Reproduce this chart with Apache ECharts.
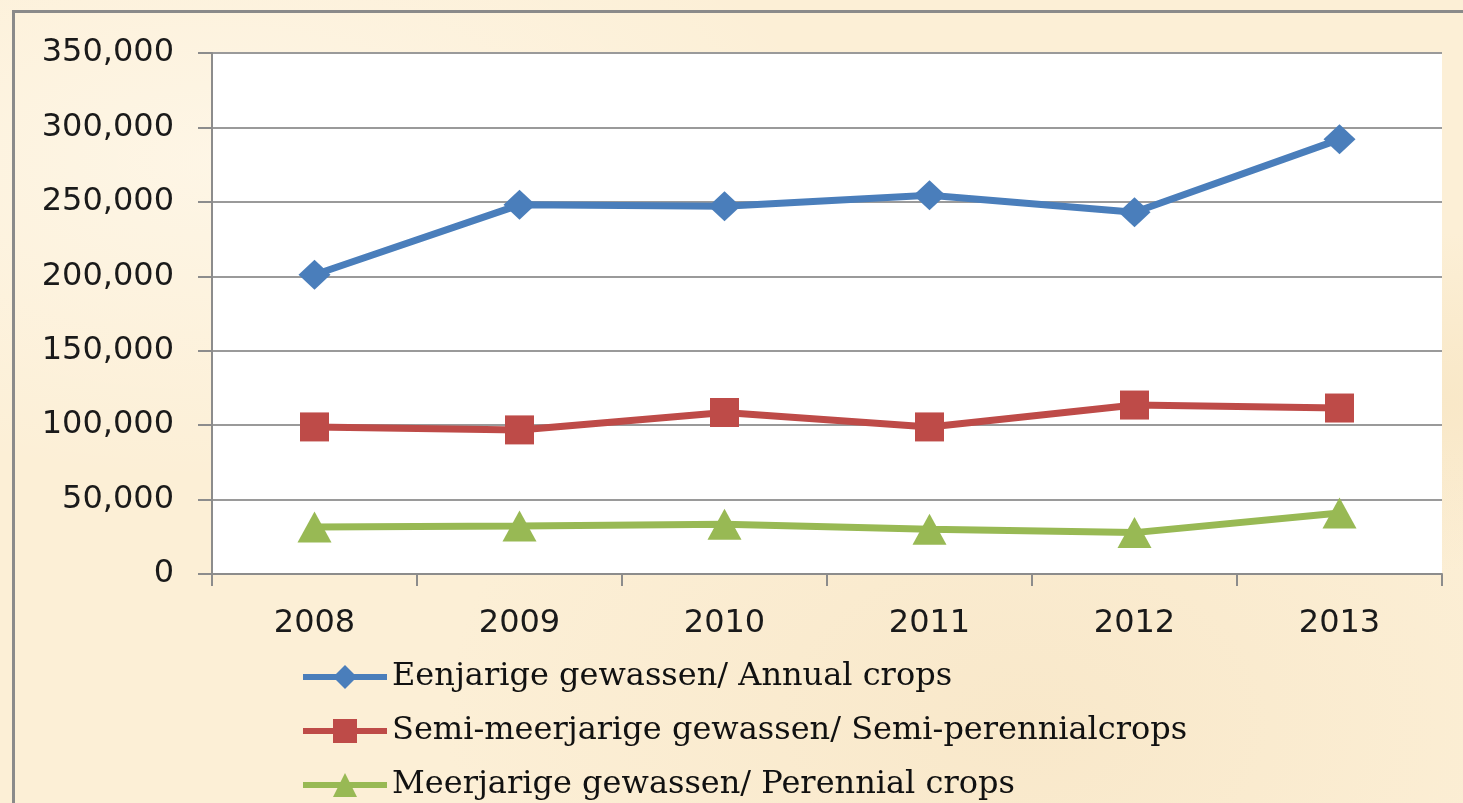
<!DOCTYPE html>
<html>
<head>
<meta charset="utf-8">
<script src="https://cdn.jsdelivr.net/npm/echarts@6/dist/echarts.min.js"></script>
<style>
  html, body { margin: 0; padding: 0; }
  body {
    width: 1463px; height: 803px; overflow: hidden; position: relative;
    background-color: #fcefd6;
    background-image:
      radial-gradient(ellipse at 15% 20%, rgba(255,250,240,0.6), rgba(255,250,240,0) 35%),
      radial-gradient(ellipse at 70% 90%, rgba(245,225,190,0.5), rgba(245,225,190,0) 40%),
      radial-gradient(ellipse at 95% 50%, rgba(246,226,188,0.6), rgba(246,226,188,0) 30%);
  }
  .frame {
    position: absolute; left: 12px; top: 10px; width: 1600px; height: 900px;
    border-left: 3px solid #8a8a8a; border-top: 3px solid #8a8a8a;
  }
  #main { position: absolute; left: 0; top: 0; width: 1463px; height: 803px; }
</style>
</head>
<body>
<div class="frame"></div>
<div id="main"></div>
<script>
  // 年份
  var years = ['2008', '2009', '2010', '2011', '2012', '2013'];
  // 系列名称
  var nameAnnual = 'Eenjarige gewassen/ Annual crops';
  var nameSemi = 'Semi-meerjarige gewassen/ Semi-perennialcrops';
  var namePerennial = 'Meerjarige gewassen/ Perennial crops';
  // 数值
  var annual = [201000, 248000, 247000, 254500, 243000, 292000];
  var semi = [98800, 96800, 108500, 98800, 113500, 111500];
  var perennial = [31500, 32200, 33500, 30000, 27800, 41000];

  var chart = echarts.init(document.getElementById('main'));

  var option = {
    backgroundColor: 'transparent',
    animation: false,
    grid: {
      left: 212, top: 53, width: 1230, height: 521,
      show: true, backgroundColor: '#ffffff', borderWidth: 0
    },
    legend: {
      orient: 'vertical',
      left: 300,
      top: 661,
      height: 200,
      padding: 0,
      itemWidth: 84,
      itemHeight: 30,
      itemGap: 22,
      lineStyle: { width: 6 },
      textStyle: {
        fontFamily: 'DejaVu Serif',
        fontSize: 32,
        color: '#111'
      },
      data: [nameAnnual, nameSemi, namePerennial]
    },
    xAxis: {
      type: 'category',
      data: years,
      boundaryGap: true,
      axisLine: { lineStyle: { color: '#8c8c8c', width: 2 } },
      axisTick: { show: true, alignWithLabel: false, length: 12, lineStyle: { color: '#8c8c8c', width: 2 } },
      axisLabel: {
        fontFamily: 'DejaVu Sans',
        fontSize: 32,
        color: '#1a1a1a',
        margin: 34
      }
    },
    yAxis: {
      type: 'value',
      min: 0,
      max: 350000,
      interval: 50000,
      axisLine: { show: true, lineStyle: { color: '#8c8c8c', width: 2 } },
      axisTick: { show: true, length: 14, lineStyle: { color: '#8c8c8c', width: 2 } },
      splitLine: { lineStyle: { color: '#9a9a9a', width: 2 } },
      axisLabel: {
        fontFamily: 'DejaVu Sans',
        fontSize: 32,
        color: '#1a1a1a',
        margin: 38,
        formatter: function (v) { return v.toLocaleString('en-US'); }
      }
    },
    series: [
      {
        name: nameAnnual,
        type: 'line',
        data: annual,
        symbol: 'diamond',
        symbolSize: [32, 30],
        lineStyle: { color: '#4a7ebb', width: 7 },
        itemStyle: { color: '#4a7ebb' }
      },
      {
        name: nameSemi,
        type: 'line',
        data: semi,
        symbol: 'rect',
        symbolSize: [29, 29],
        lineStyle: { color: '#be4b48', width: 7 },
        itemStyle: { color: '#be4b48' }
      },
      {
        name: namePerennial,
        type: 'line',
        data: perennial,
        symbol: 'triangle',
        symbolSize: [34, 31],
        lineStyle: { color: '#98b954', width: 7 },
        itemStyle: { color: '#98b954' }
      }
    ]
  };

  chart.setOption(option);
</script>
</body>
</html>
